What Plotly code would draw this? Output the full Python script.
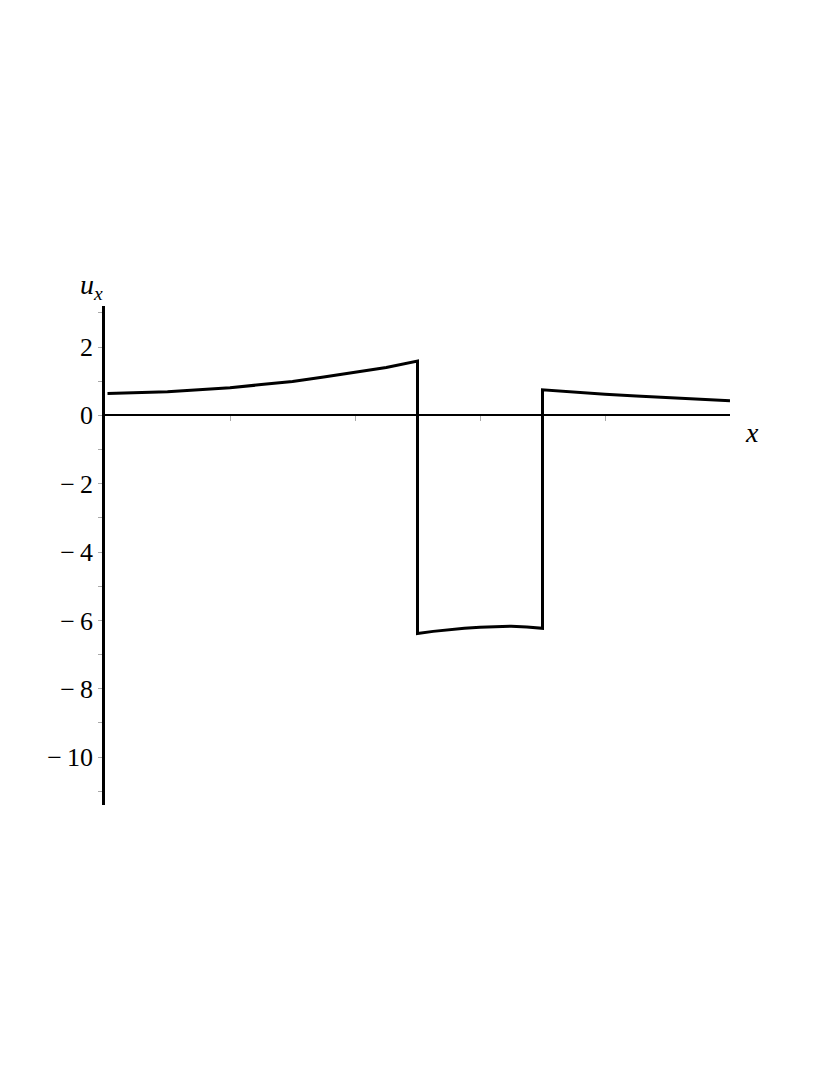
import plotly.graph_objects as go

# values (x runs 0..5, jumps at 2.5 and 3.5)
x_left = [0.02, 0.25, 0.5, 0.75, 1.0, 1.25, 1.5, 1.75, 2.0, 2.25, 2.5]
u_left = [0.64, 0.66, 0.69, 0.75, 0.81, 0.90, 0.99, 1.12, 1.25, 1.40, 1.59]

x_mid = [2.5, 2.625, 2.75, 2.875, 3.0, 3.125, 3.25, 3.375, 3.5]
u_mid = [-6.38, -6.32, -6.27, -6.23, -6.20, -6.18, -6.17, -6.19, -6.23]

x_right = [3.5, 3.75, 4.0, 4.25, 4.5, 4.75, 5.0]
u_right = [0.75, 0.68, 0.62, 0.57, 0.52, 0.47, 0.43]

y_ticks = [3, 2, 1, 0, -1, -2, -3, -4, -5, -6, -7, -8, -9, -10, -11]
y_ticktext = ["", "2", "", "0", "", "\u2212\u20092", "", "\u2212\u20094", "", "\u2212\u20096", "",
              "\u2212\u20098", "", "\u2212\u200910", ""]
x_ticks = [1, 2, 3, 4]

y_min, y_max = -11.4, 3.2

fig = go.Figure()
fig.add_trace(go.Scatter(
    x=x_left + x_mid + x_right,
    y=u_left + u_mid + u_right,
    mode="lines",
    line=dict(color="black", width=3),
    showlegend=False,
))

serif = "Liberation Serif"

# the page body has an 8px margin, so the figure is 8px smaller each way
fig.update_layout(
    width=822, height=1067,
    margin=dict(l=97, r=100, t=298, b=270),
    plot_bgcolor="white", paper_bgcolor="white",
    font=dict(family=serif, size=26, color="black"),
    xaxis=dict(
        range=[0, 5], showgrid=False, zeroline=False,
        anchor="free", position=(0 - y_min) / (y_max - y_min),
        showline=True, linecolor="black", linewidth=2,
        tickvals=x_ticks, ticktext=["", "", "", ""],
        ticks="outside", ticklen=5, tickcolor="#aaaaaa", tickwidth=1,
    ),
    yaxis=dict(
        range=[y_min, y_max], showgrid=False, zeroline=False,
        showline=True, linecolor="black", linewidth=2.5,
        tickvals=y_ticks, ticktext=y_ticktext,
        ticks="outside", ticklen=4, tickcolor="#aaaaaa", tickwidth=1,
        ticklabelstandoff=0,
        tickfont=dict(family=serif, size=26, color="black"),
    ),
    annotations=[
        dict(text="<i>u</i><sub><i>x</i></sub>", xref="paper", yref="paper",
             x=-0.022, y=1.0, xanchor="center", yanchor="bottom", showarrow=False,
             font=dict(family=serif, size=28, color="black")),
        dict(text="<i>x</i>", xref="paper", yref="paper",
             x=1.035, y=(0 - y_min) / (y_max - y_min), xanchor="center", yanchor="top",
             yshift=0, showarrow=False,
             font=dict(family=serif, size=28, color="black")),
    ],
)

fig.write_html("out.html")
